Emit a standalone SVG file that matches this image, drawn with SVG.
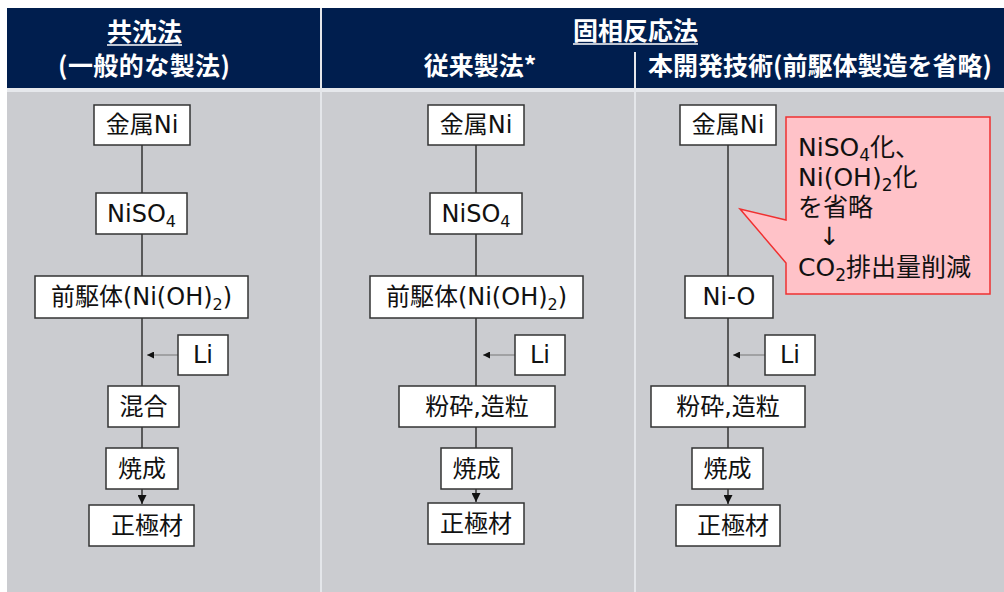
<svg xmlns="http://www.w3.org/2000/svg" width="1004" height="592" viewBox="0 0 1004 592">
<style>
.hd{font-family:"Noto Sans CJK JP","Noto Sans",sans-serif;font-weight:bold;font-size:25px;fill:#fff;text-anchor:middle}
.bx rect{fill:#fff;stroke:#333;stroke-width:1.5}
.bx text,.co text{font-family:"DejaVu Sans","Noto Sans CJK JP",sans-serif;font-size:24px;fill:#111;text-anchor:middle}
.co text{text-anchor:start;font-size:25px}
.ln{stroke:#333;stroke-width:1.5;fill:none}
.li{stroke:#777;stroke-width:1;fill:none}
.sep{stroke:#E4E6EA;stroke-width:2}
</style>
<defs>
<marker id="ah" viewBox="0 0 10 10" refX="10" refY="5" markerWidth="7" markerHeight="7" markerUnits="userSpaceOnUse" orient="auto">
<path d="M0,0 L10,5 L0,10 Z" fill="#111"/>
</marker>
<marker id="ahd" viewBox="0 0 10 10" refX="10" refY="5" markerWidth="9" markerHeight="9" markerUnits="userSpaceOnUse" orient="auto">
<path d="M0,0 L10,5 L0,10 Z" fill="#111"/>
</marker>
</defs>
<rect x="0" y="0" width="1004" height="592" fill="#fff"/>
<g id="background">
<rect x="7" y="8" width="997" height="80" fill="#001E4E"/>
<rect x="7" y="88" width="997" height="4" fill="#E6E8EC"/>
<rect x="7" y="92" width="997" height="500" fill="#CBCCD0"/>
<line class="sep" x1="321" y1="8" x2="321" y2="592"/>
<line class="sep" x1="635" y1="52" x2="635" y2="592"/>
</g>
<g id="header">
<text class="hd" x="144.5" y="41">共沈法</text>
<line x1="107" y1="45" x2="182" y2="45" stroke="#fff" stroke-width="1.5"/>
<text class="hd" x="144" y="75" textLength="172" lengthAdjust="spacing">(一般的な製法)</text>
<text class="hd" x="635.5" y="40">固相反応法</text>
<line x1="573" y1="44" x2="698" y2="44" stroke="#fff" stroke-width="1.5"/>
<text class="hd" x="480" y="75">従来製法*</text>
<text class="hd" x="820" y="75" textLength="344" lengthAdjust="spacing">本開発技術(前駆体製造を省略)</text>
</g>
<g id="connectors">
<line class="ln" x1="142" y1="145" x2="142" y2="448"/>
<line class="ln" x1="142" y1="489" x2="142" y2="504" marker-end="url(#ahd)"/>
<line class="li" x1="178" y1="355" x2="147" y2="355" marker-end="url(#ah)"/>
<line class="ln" x1="476" y1="145" x2="476" y2="448"/>
<line class="ln" x1="476" y1="489" x2="476" y2="502" marker-end="url(#ahd)"/>
<line class="li" x1="515" y1="355" x2="483" y2="355" marker-end="url(#ah)"/>
<line class="ln" x1="728" y1="145" x2="728" y2="448"/>
<line class="ln" x1="728" y1="489" x2="728" y2="504" marker-end="url(#ahd)"/>
<line class="li" x1="765" y1="355" x2="733" y2="355" marker-end="url(#ah)"/>
</g>
<g id="c1-metal" class="bx"><rect x="94" y="105" width="96" height="40"/><text x="142" y="133">金属Ni</text></g>
<g id="c1-niso4" class="bx"><rect x="96" y="193" width="91" height="41"/><text x="141.5" y="222">NiSO<tspan font-size="16" dy="5">4</tspan></text></g>
<g id="c1-precursor" class="bx"><rect x="35" y="276" width="213" height="42"/><text x="141.5" y="305">前駆体(Ni(OH)<tspan font-size="16" dy="5">2</tspan><tspan dy="-5">)</tspan></text></g>
<g id="c1-li" class="bx"><rect x="178" y="335" width="50" height="40"/><text x="203" y="363">Li</text></g>
<g id="c1-mix" class="bx"><rect x="108" y="386" width="71" height="41"/><text x="143.5" y="415">混合</text></g>
<g id="c1-fire" class="bx"><rect x="106" y="448" width="72" height="41"/><text x="142" y="477">焼成</text></g>
<g id="c1-cathode" class="bx"><rect x="89" y="505" width="105" height="41"/><text x="147" y="534">正極材</text></g>
<g id="c2-metal" class="bx"><rect x="428" y="105" width="96" height="40"/><text x="476" y="133">金属Ni</text></g>
<g id="c2-niso4" class="bx"><rect x="430" y="193" width="92" height="41"/><text x="476" y="222">NiSO<tspan font-size="16" dy="5">4</tspan></text></g>
<g id="c2-precursor" class="bx"><rect x="370" y="276" width="213" height="42"/><text x="476.5" y="305">前駆体(Ni(OH)<tspan font-size="16" dy="5">2</tspan><tspan dy="-5">)</tspan></text></g>
<g id="c2-li" class="bx"><rect x="515" y="335" width="50" height="40"/><text x="540" y="363">Li</text></g>
<g id="c2-grind" class="bx"><rect x="399" y="386" width="156" height="41"/><text x="477" y="415">粉砕,造粒</text></g>
<g id="c2-fire" class="bx"><rect x="441" y="448" width="71" height="41"/><text x="476.5" y="477">焼成</text></g>
<g id="c2-cathode" class="bx"><rect x="428" y="503" width="96" height="41"/><text x="476" y="532">正極材</text></g>
<g id="c3-metal" class="bx"><rect x="680" y="105" width="96" height="40"/><text x="728" y="133">金属Ni</text></g>
<g id="c3-nio" class="bx"><rect x="685" y="276" width="88" height="42"/><text x="729" y="305">Ni-O</text></g>
<g id="c3-li" class="bx"><rect x="765" y="335" width="50" height="40"/><text x="790" y="363">Li</text></g>
<g id="c3-grind" class="bx"><rect x="651" y="386" width="154" height="41"/><text x="728" y="415">粉砕,造粒</text></g>
<g id="c3-fire" class="bx"><rect x="692" y="448" width="71" height="41"/><text x="727.5" y="477">焼成</text></g>
<g id="c3-cathode" class="bx"><rect x="676" y="505" width="104" height="41"/><text x="733" y="534">正極材</text></g>
<g id="callout" class="co">
<path d="M786,117 H990 V294 H786 V263 L740,209 L786,220 Z" fill="#FFC2C8" stroke="#F03030" stroke-width="1.5"/>
<text x="798" y="156">NiSO<tspan font-size="17" dy="5">4</tspan><tspan dy="-5">化、</tspan></text>
<text x="798" y="186">Ni(OH)<tspan font-size="17" dy="5">2</tspan><tspan dy="-5">化</tspan></text>
<text x="798" y="216">を省略</text>
<text x="819" y="245">↓</text>
<text x="798" y="276">CO<tspan font-size="17" dy="5">2</tspan><tspan dy="-5">排出量削減</tspan></text>
</g>
</svg>
